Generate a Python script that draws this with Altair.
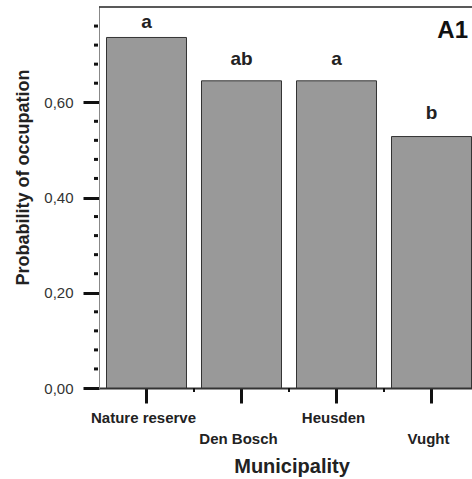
import altair as alt
import pandas as pd

categories = ["Nature reserve", "Den Bosch", "Heusden", "Vught"]
probabilities = [0.736, 0.645, 0.645, 0.528]
letters = ["a", "ab", "a", "b"]
major_ticks = [0.0, 0.2, 0.4, 0.6]
minor_ticks = [0.04, 0.08, 0.12, 0.16, 0.24, 0.28, 0.32, 0.36,
               0.44, 0.48, 0.52, 0.56, 0.64, 0.68, 0.72, 0.76]
panel_label = "A1"
x_title = "Municipality"
y_title = "Probability of occupation"

df = pd.DataFrame({"cat": categories, "p": probabilities, "letter": letters})
minor_df = pd.DataFrame({"v": minor_ticks})
bounds_df = pd.DataFrame({"cat": categories[1:]})
panel_df = pd.DataFrame({"t": [panel_label]})

FONT = "Liberation Sans"
W, H = 373, 381

xscale = alt.Scale(domain=categories, range=[0, 380], paddingInner=0.158, paddingOuter=0.079)
yscale = alt.Scale(domain=[0, 0.8], nice=False, zero=True)

base = alt.Chart(df)

bars = base.mark_bar(fill="#999999", stroke="#333333", strokeWidth=1, clip=True).encode(
    x=alt.X("cat:N", scale=xscale, axis=alt.Axis(
        labels=False, ticks=True, tickSize=15, tickWidth=3, tickColor="#111111",
        domainColor="#333333", domainWidth=2,
        title=x_title, titleFont=FONT, titleFontSize=20, titleFontWeight="bold",
        titleColor="#222222", titleX=192.5, titleY=84, titleBaseline="alphabetic",
        titleAlign="center")),
    y=alt.Y("p:Q", scale=yscale, axis=alt.Axis(
        values=major_ticks, grid=False,
        labelExpr="replace(format(datum.value, '.2f'), '.', ',')",
        labelFont=FONT, labelFontSize=15, labelColor="#333333", labelPadding=10,
        tickSize=16, tickWidth=3, tickColor="#111111",
        domainColor="#888888", domainWidth=1,
        title=y_title, titleFont=FONT, titleFontSize=18, titleFontWeight="bold",
        titleColor="#222222", titleAngle=270, titleX=-71, titleY=170,
        titleBaseline="alphabetic", titleAlign="center")),
)


def letter_layer(cats, dy):
    return base.transform_filter(
        alt.FieldOneOfPredicate(field="cat", oneOf=cats)
    ).mark_text(font=FONT, fontSize=19, fontWeight="bold", baseline="alphabetic",
                dy=dy, color="#222222").encode(
        x=alt.X("cat:N", scale=xscale),
        y=alt.Y("p:Q", scale=yscale),
        text="letter:N",
    )


letters_a = letter_layer(categories[0:1], -9)
letters_b = letter_layer(categories[1:3], -16)
letters_c = letter_layer(categories[3:4], -18)


def cat_label_layer(cats, ypix):
    return base.transform_filter(
        alt.FieldOneOfPredicate(field="cat", oneOf=cats)
    ).mark_text(font=FONT, fontSize=15, fontWeight="bold", baseline="alphabetic",
                dx=-3, color="#222222").encode(
        x=alt.X("cat:N", scale=xscale),
        y=alt.value(ypix),
        text="cat:N",
    )


row1 = cat_label_layer(categories[0::2], 416)
row2 = cat_label_layer(categories[1::2], 437)

bound_ticks = alt.Chart(bounds_df).mark_rule(color="#111111", strokeWidth=2, xOffset=-7.5).encode(
    x=alt.X("cat:N", scale=xscale, bandPosition=0),
    y=alt.value(H),
    y2=alt.value(H + 4),
)

minor_y = alt.Chart(minor_df).mark_rule(color="#111111", strokeWidth=3).encode(
    y=alt.Y("v:Q", scale=yscale),
    x=alt.value(-5),
    x2=alt.value(-1),
)

top_border = alt.Chart(panel_df).mark_rule(color="#222222", strokeWidth=1.5).encode(
    x=alt.value(0), x2=alt.value(W), y=alt.value(0)
)

panel = alt.Chart(panel_df).mark_text(
    font=FONT, fontSize=24, fontWeight="bold", align="right", baseline="alphabetic",
    color="#111111").encode(
    x=alt.value(369), y=alt.value(31), text="t:N"
)

chart = alt.layer(
    bars, letters_a, letters_b, letters_c, row1, row2, bound_ticks, minor_y, top_border, panel
).properties(
    width=W, height=H,
    padding={"left": 99, "top": 7, "right": 0, "bottom": 91},
    autosize=alt.AutoSizeParams(type="none"),
    background="white",
).configure_view(stroke=None)

chart.save("out.html", embed_options={"renderer": "svg", "actions": False})
